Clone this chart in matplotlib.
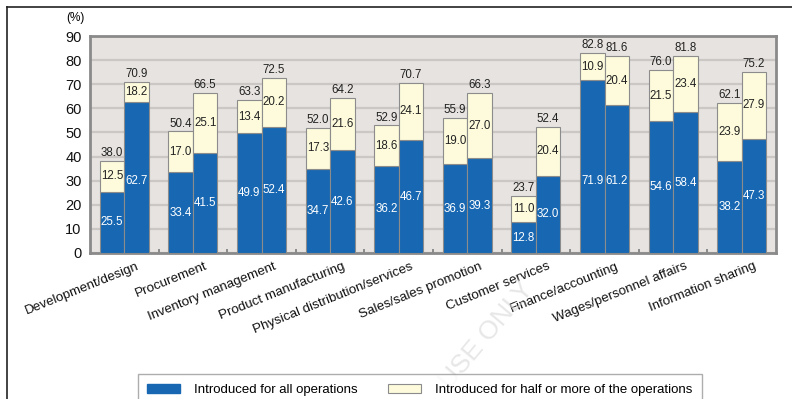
import matplotlib
matplotlib.use("Agg")
import matplotlib.pyplot as plt
import numpy as np
from matplotlib.patches import Patch
from matplotlib.lines import Line2D

plt.rcParams['font.family'] = ['Liberation Sans', 'DejaVu Sans']

categories = ["Development/design", "Procurement", "Inventory management",
              "Product manufacturing", "Physical distribution/services",
              "Sales/sales promotion", "Customer services", "Finance/accounting",
              "Wages/personnel affairs", "Information sharing"]

# left bar of each pair
all_a = [25.5, 33.4, 49.9, 34.7, 36.2, 36.9, 12.8, 71.9, 54.6, 38.2]
half_a = [12.5, 17.0, 13.4, 17.3, 18.6, 19.0, 11.0, 10.9, 21.5, 23.9]
total_a = [38.0, 50.4, 63.3, 52.0, 52.9, 55.9, 23.7, 82.8, 76.0, 62.1]
# right bar of each pair
all_b = [62.7, 41.5, 52.4, 42.6, 46.7, 39.3, 32.0, 61.2, 58.4, 47.3]
half_b = [18.2, 25.1, 20.2, 21.6, 24.1, 27.0, 20.4, 20.4, 23.4, 27.9]
total_b = [70.9, 66.5, 72.5, 64.2, 70.7, 66.3, 52.4, 81.6, 81.8, 75.2]

series_names = ["Introduced for all operations",
                "Introduced for half or more of the operations"]
yticks = list(range(0, 91, 10))

BLUE = "#1767b2"
CREAM = "#fdfbdc"
EDGE = "#8c8c8c"
BG = "#e7e3e0"

fig = plt.figure(figsize=(7.92, 3.99), dpi=100)
ax = fig.add_axes([90 / 792, 1 - 253 / 399, 686 / 792, 217 / 399])
ax.set_facecolor(BG)

x = np.arange(len(categories))
w = 0.357

for offs, alls, halfs, tots in [(-w / 2, all_a, half_a, total_a),
                                 (w / 2, all_b, half_b, total_b)]:
    xs = x + offs
    alls = np.array(alls)
    tots = np.array(tots)
    ax.bar(xs, alls, w, color=BLUE, edgecolor=EDGE, linewidth=0.8, zorder=3)
    ax.bar(xs, tots - alls, w, bottom=alls, color=CREAM, edgecolor=EDGE,
           linewidth=0.8, zorder=3)
    for xi, a, h, t in zip(xs, alls, halfs, tots):
        ax.text(xi, min(a / 2, 30), f"{a:.1f}", color="white", ha="center",
                va="center", fontsize=8.3, zorder=4)
        ax.text(xi, (a + t) / 2, f"{h:.1f}", color="#222222", ha="center",
                va="center", fontsize=8.3, zorder=4)
        ax.text(xi, t + 0.8, f"{t:.1f}", color="#222222", ha="center",
                va="bottom", fontsize=8.3, zorder=4)

ax.set_xlim(-0.5, len(categories) - 0.5)
ax.set_ylim(0, 90)
ax.set_yticks(yticks)
ax.tick_params(axis="y", length=0, labelsize=10.5, pad=6, colors="#111111")
ax.yaxis.grid(True, color="#cbc7c4", linewidth=1.6, zorder=1)
ax.set_axisbelow(True)
for s in ax.spines.values():
    s.set_color("#8a8a8a")
    s.set_linewidth(2)

# small separators between groups on the baseline
ax.set_xticks(x)
ax.set_xticklabels([])
ax.tick_params(axis="x", length=0)
for b in np.arange(0.5, len(categories) - 1, 1.0):
    ax.plot([b, b], [0, 1.4], color="#8a8a8a", lw=1.4, zorder=2, clip_on=False)

for xi, name in zip(x, categories):
    ax.text(xi + 0.22, -6.5, name, rotation=22, rotation_mode="anchor",
            ha="right", va="baseline", fontsize=9.6, color="#111111")

fig.text(66 / 792, 1 - 18 / 399, "(%)", fontsize=8.5, va="center", ha="left")

handles = [Patch(facecolor=BLUE, edgecolor=BLUE),
           Patch(facecolor=CREAM, edgecolor=EDGE, linewidth=0.8)]
leg = fig.legend(handles, series_names, loc="lower center", ncol=2,
                 bbox_to_anchor=(420 / 792, -0.035), frameon=True, fancybox=False,
                 edgecolor="#999999", fontsize=9.5, handlelength=2.45,
                 handleheight=0.7, handletextpad=1.1, columnspacing=2.3,
                 borderpad=0.75, borderaxespad=0.5)
leg.get_frame().set_linewidth(1.0)

# faint stamp across the lower area
fig.text(487 / 792, 1 - 335 / 399, "USE ONLY", rotation=50, fontsize=19,
         color="#d8d8d8", ha="center", va="center", alpha=0.6, zorder=0)

# outer page border on top and left
fig.add_artist(Line2D([7 / 792, 1], [1 - 7 / 399, 1 - 7 / 399],
                      color="#222222", lw=1.2, transform=fig.transFigure))
fig.add_artist(Line2D([7 / 792, 7 / 792], [0, 1 - 7 / 399],
                      color="#222222", lw=1.2, transform=fig.transFigure))

fig.savefig("out.png", dpi=100, facecolor="white")
